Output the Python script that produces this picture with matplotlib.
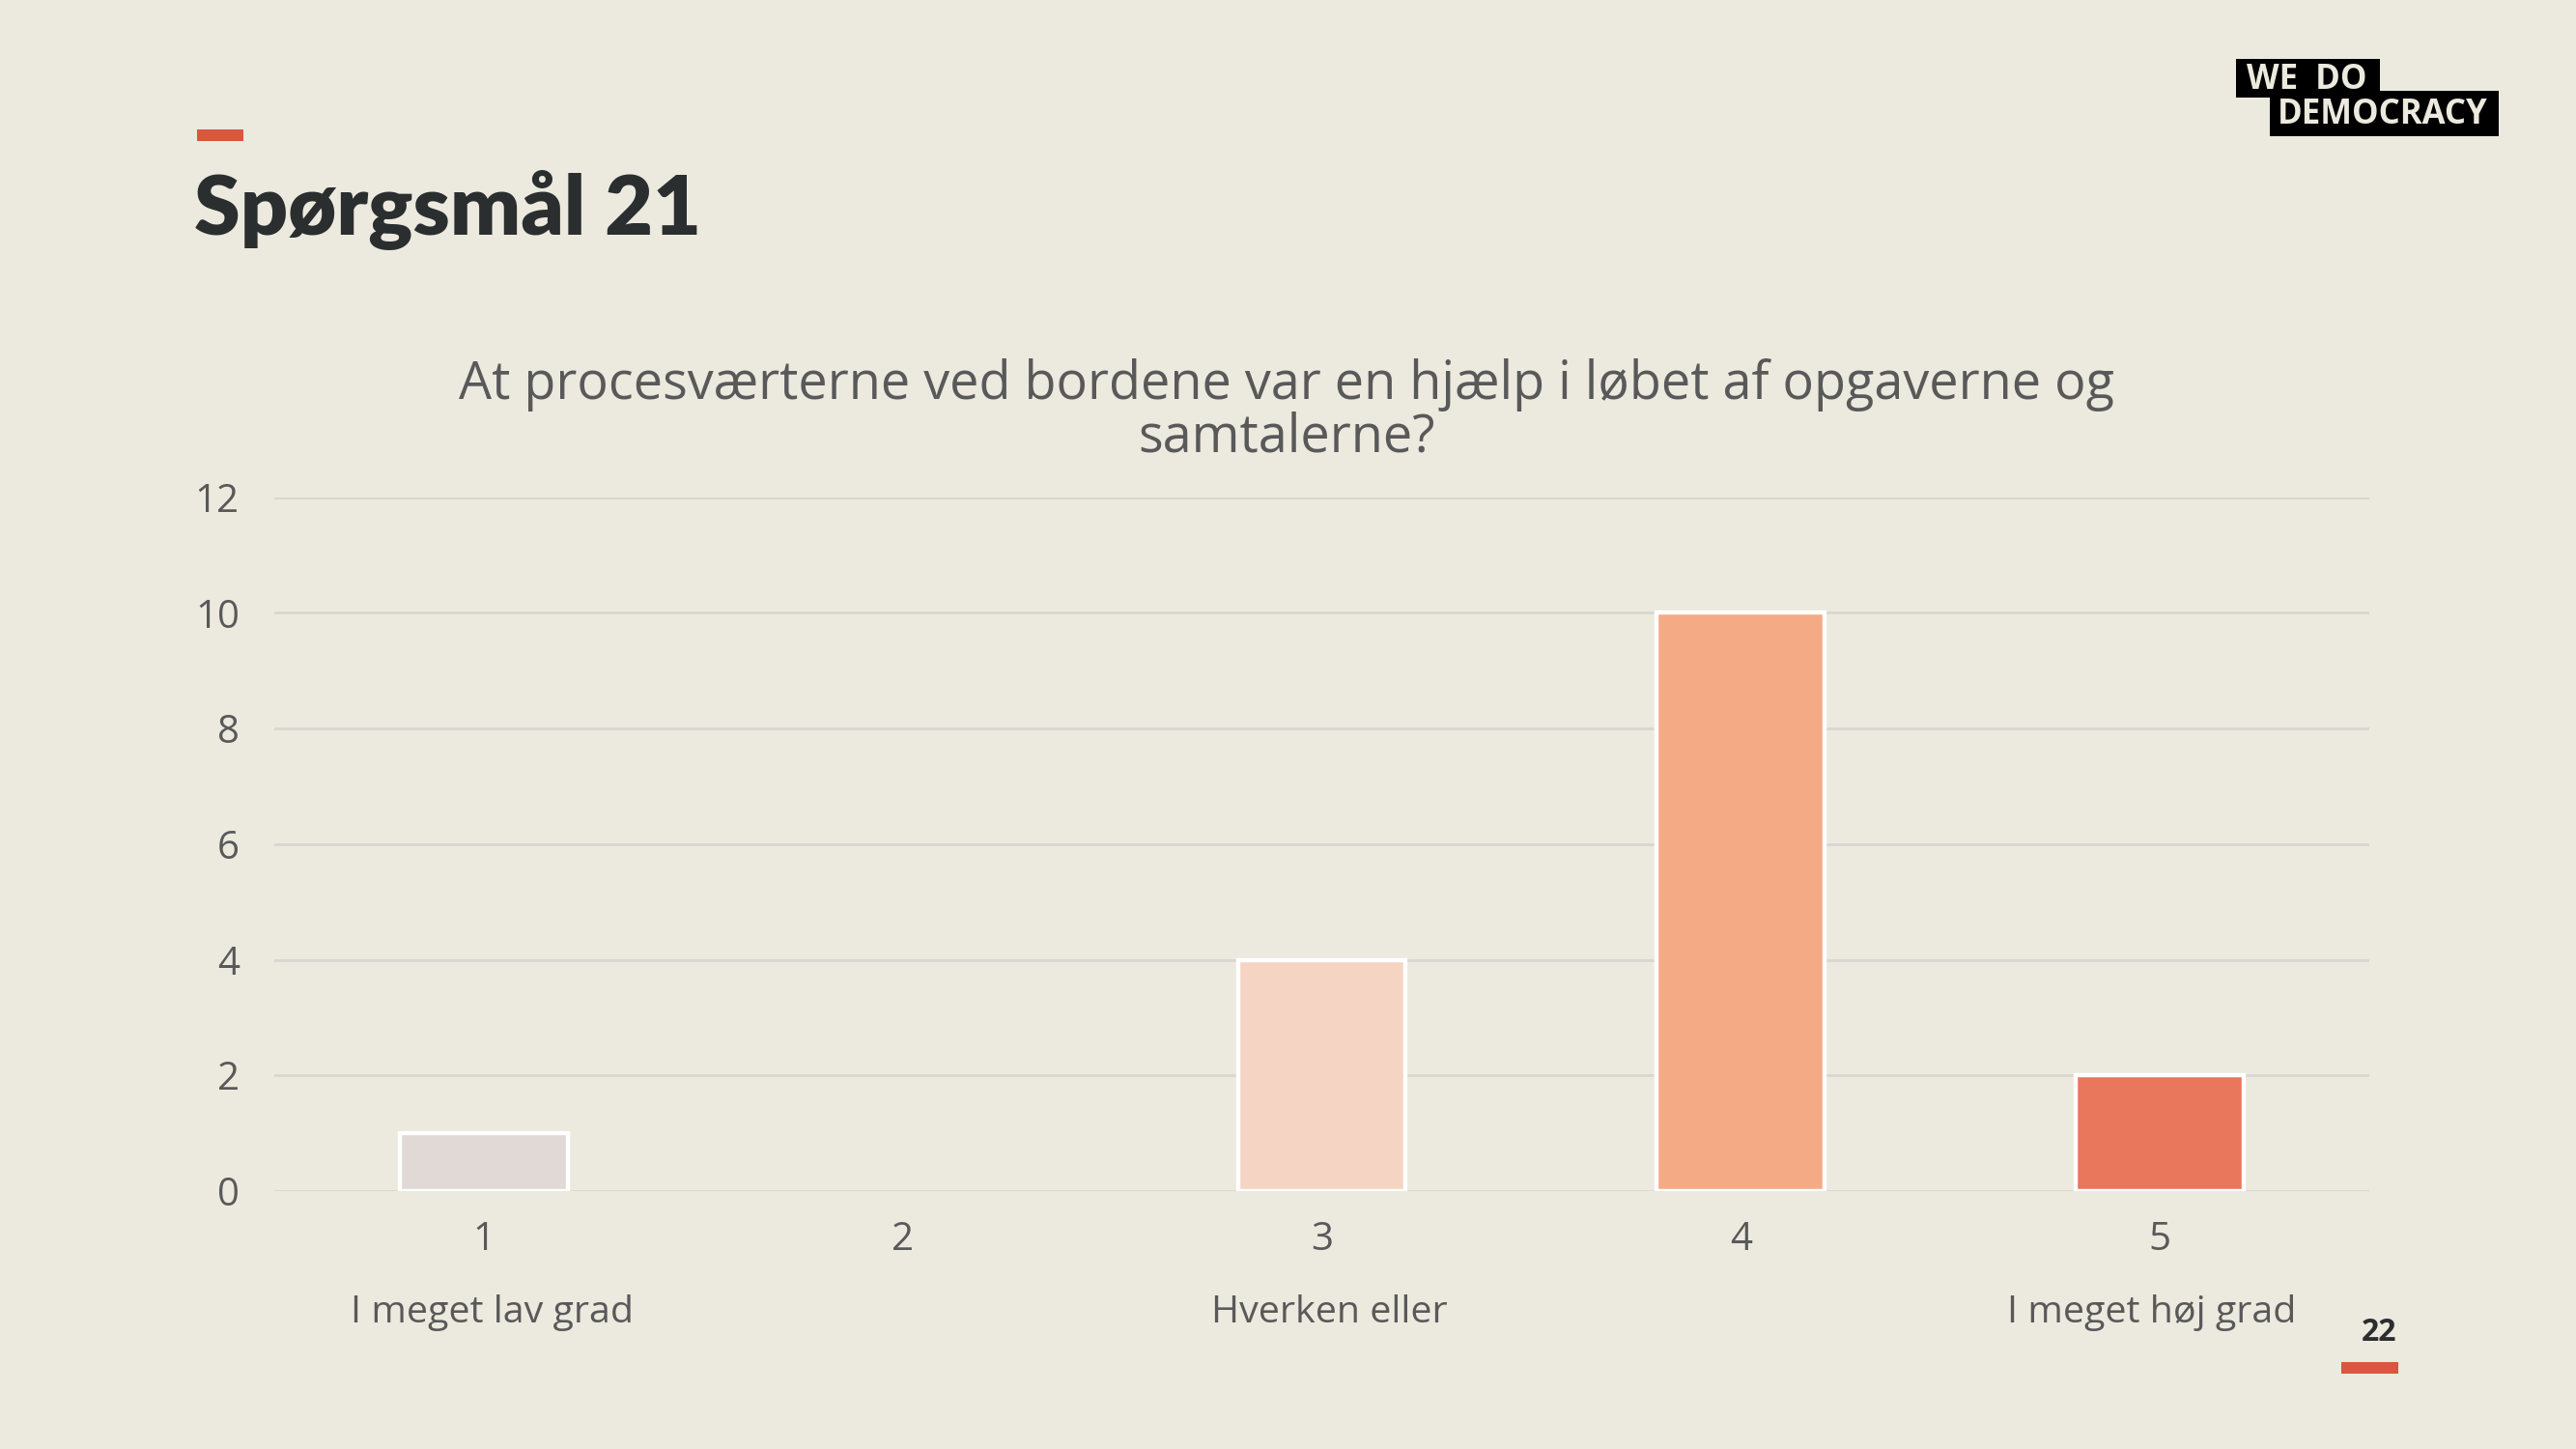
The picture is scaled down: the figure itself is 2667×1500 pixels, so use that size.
import matplotlib.pyplot as plt
from matplotlib.patches import Rectangle

# Data
categories = [1, 2, 3, 4, 5]
counts = [1, 0, 4, 10, 2]
bar_colors = ["#E1D9D5", "#F9E3D6", "#F5D4C3", "#F5AA86", "#E8775C"]
scale_labels = {1: "I meget lav grad", 3: "Hverken eller", 5: "I meget høj grad"}
y_ticks = [0, 2, 4, 6, 8, 10, 12]

title = "Spørgsmål 21"
question = "At procesværterne ved bordene var en hjælp i løbet af opgaverne og\nsamtalerne?"
page_no = "22"

# Style
bg = "#ECE9DF"
grey = "#595959"
dark = "#2B2E2F"
red = "#D9573F"
label_shift = {1: 0.02, 3: 0.018, 5: -0.02}   # small nudges of the scale labels
plt.rcParams['font.family'] = ['Open Sans', 'DejaVu Sans']

fig = plt.figure(figsize=(13.335, 7.5), dpi=200, facecolor=bg)
ax = fig.add_axes([0.1065, 0.178, 0.8132, 0.479], facecolor=bg)

# no outline on empty bars
edge_widths = [1.6 if c > 0 else 0 for c in counts]
ax.bar(categories, counts, width=0.4, color=bar_colors, edgecolor="white",
       linewidth=edge_widths, zorder=3)

ax.set_xlim(0.5, 5.5)
ax.set_ylim(0, 12)
ax.set_yticks(y_ticks)
ax.set_xticks(categories)
ax.grid(axis="y", color="#D8D6D0", linewidth=1.0, zorder=0)
for s in ax.spines.values():
    s.set_visible(False)
ax.tick_params(axis="both", length=0, labelsize=14.5, labelcolor=grey)
ax.tick_params(axis="y", pad=13)
ax.tick_params(axis="x", pad=11)

# Scale labels under the ticks
for x, lab in scale_labels.items():
    ax.text(x + label_shift[x], -0.176, lab, transform=ax.get_xaxis_transform(),
            ha="center", va="center", fontsize=14.2, color=grey)

# Question as chart title
fig.text(0.4995, 0.716, question, ha="center", va="center", fontsize=19.4,
         color=grey, linespacing=1.0)

# Slide heading
fig.add_artist(Rectangle((0.0765, 0.903), 0.018, 0.008, transform=fig.transFigure,
                         color=red, lw=0))
fig.text(0.0755, 0.855, title, ha="left", va="center", fontsize=31,
         fontweight="heavy", color=dark, family=['Lato', 'DejaVu Sans'])

# Logo
fig.add_artist(Rectangle((0.868, 0.933), 0.056, 0.026, transform=fig.transFigure,
                         color="black", lw=0))
fig.add_artist(Rectangle((0.881, 0.906), 0.089, 0.031, transform=fig.transFigure,
                         color="black", lw=0))
fig.text(0.872, 0.945, "WE  DO", ha="left", va="center", fontsize=12.5,
         fontweight="bold", color=bg)
fig.text(0.884, 0.921, "DEMOCRACY", ha="left", va="center", fontsize=12.5,
         fontweight="bold", color=bg)

# Page number
fig.text(0.9235, 0.08, page_no, ha="center", va="center", fontsize=11.5,
         fontweight="bold", color=dark)
fig.add_artist(Rectangle((0.909, 0.052), 0.022, 0.008, transform=fig.transFigure,
                         color=red, lw=0))

fig.savefig("out.png", dpi=200, facecolor=bg)
